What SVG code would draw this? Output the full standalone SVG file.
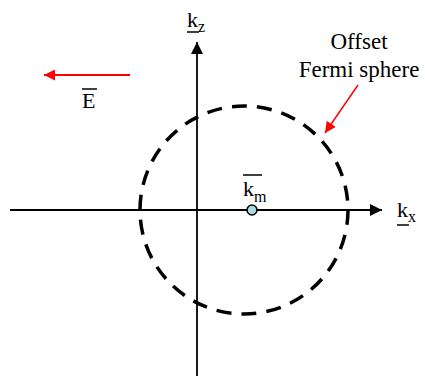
<svg xmlns="http://www.w3.org/2000/svg" width="425" height="376" viewBox="0 0 425 376">
<defs>
<style>
.axis{stroke:#000;stroke-width:1.8;fill:none}
.red{stroke:#ff0000;stroke-width:2;fill:none}
.t{font-family:"Liberation Serif",serif;fill:#000}
.bar{stroke:#000;stroke-width:1.5}
</style>
<marker id="ab" viewBox="0 0 12 12" refX="12" refY="6" markerWidth="12" markerHeight="12" markerUnits="userSpaceOnUse" orient="auto">
<path d="M0,0 L12,6 L0,12 Z" fill="#000"/>
</marker>
<marker id="ar" viewBox="0 0 12 12" refX="12" refY="6" markerWidth="12" markerHeight="11" markerUnits="userSpaceOnUse" orient="auto">
<path d="M0,0 L12,6 L0,12 Z" fill="#ff0000"/>
</marker>
</defs>
<rect width="425" height="376" fill="#fff"/>
<g id="connectors">
<line class="axis" x1="10" y1="210" x2="382" y2="210" marker-end="url(#ab)"/>
<line class="axis" x1="197" y1="376" x2="197" y2="42" marker-end="url(#ab)"/>
<line class="red" x1="130" y1="75" x2="44" y2="75" marker-end="url(#ar)"/>
<line class="red" x1="358" y1="85" x2="325" y2="133" marker-end="url(#ar)" style="stroke-width:1.5"/>
</g>
<g id="fermi-sphere">
<circle cx="244" cy="210" r="104" fill="none" stroke="#000" stroke-width="3.5" stroke-dasharray="15 10.13"/>
</g>
<g id="km">
<circle cx="252" cy="210" r="5" fill="#a9dbe0" stroke="#000" stroke-width="1.5"/>
<text class="t" x="243" y="196" font-size="22">k<tspan font-size="16" dy="6">m</tspan></text>
<line class="bar" x1="243" y1="175" x2="262" y2="175"/>
</g>
<g id="kz-label">
<text class="t" x="187" y="27" font-size="22">k<tspan font-size="16" dy="5">z</tspan></text>
<line class="bar" x1="187" y1="32" x2="199" y2="32"/>
</g>
<g id="kx-label">
<text class="t" x="397" y="217" font-size="22">k<tspan font-size="16" dy="5">x</tspan></text>
<line class="bar" x1="397" y1="225" x2="409" y2="225"/>
</g>
<g id="E-label">
<text class="t" x="82" y="108" font-size="22">E</text>
<line class="bar" x1="82" y1="89" x2="97" y2="89"/>
</g>
<g id="offset-label">
<text class="t" x="359" y="49" font-size="23" text-anchor="middle">Offset</text>
<text class="t" x="359" y="77" font-size="23" text-anchor="middle">Fermi sphere</text>
</g>
</svg>
